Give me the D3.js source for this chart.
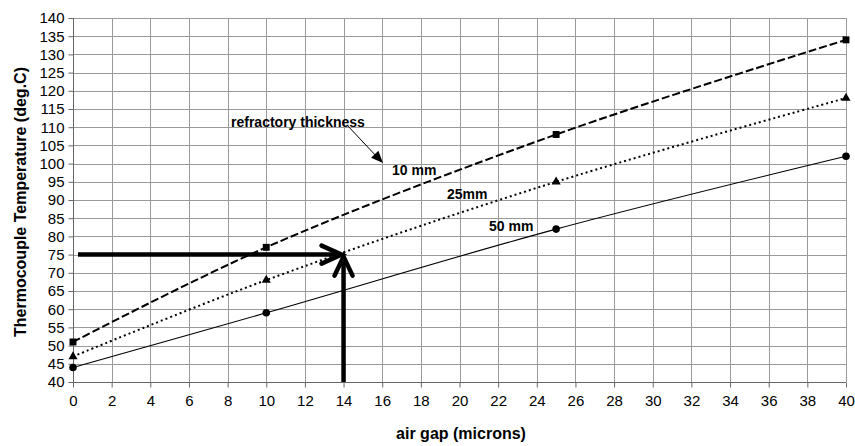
<!DOCTYPE html>
<html><head><meta charset="utf-8">
<script src="https://cdn.jsdelivr.net/npm/d3@7"></script>
<style>
body{margin:0;background:#fff;}
text{font-family:"Liberation Sans",Arial,sans-serif;fill:#000;}
</style></head>
<body><svg id="c" width="855" height="446"></svg>
<script>
const airGap = [0, 10, 25, 40];
const temp10mm = [51, 77, 108, 134];
const temp25mm = [47, 68, 95, 118];
const temp50mm = [44, 59, 82, 102];
const seriesNames = ["10 mm", "25mm", "50 mm"];
const xTicks = d3.range(0, 41, 2);
const yTicks = d3.range(40, 141, 5);
const targetX = 14, targetY = 75;

const svg = d3.select("#c");
const L = 73, R = 846, T = 18, B = 382;
const x = d3.scaleLinear().domain([0, 40]).range([L, R]);
const y = d3.scaleLinear().domain([40, 140]).range([B, T]);

// grid
const g = svg.append("g");
g.selectAll(".vg").data(xTicks).enter().append("line")
  .attr("x1", d => Math.round(x(d)) + 0.5).attr("x2", d => Math.round(x(d)) + 0.5)
  .attr("y1", T).attr("y2", B).attr("stroke", "#9a9a9a").attr("stroke-width", 1);
g.selectAll(".hg").data(yTicks).enter().append("line")
  .attr("y1", d => Math.round(y(d)) + 0.5).attr("y2", d => Math.round(y(d)) + 0.5)
  .attr("x1", L).attr("x2", R).attr("stroke", "#9a9a9a").attr("stroke-width", 1);

// axes
const yAxis = d3.axisLeft(y).tickValues(yTicks).tickSize(5).tickPadding(4);
const xAxis = d3.axisBottom(x).tickValues(xTicks).tickSize(5).tickPadding(8);
const ya = svg.append("g").attr("transform", `translate(${L + 0.5},0)`).call(yAxis);
const xa = svg.append("g").attr("transform", `translate(0,${B + 0.5})`).call(xAxis);
[ya, xa].forEach(a => {
  a.selectAll("path,line").attr("stroke", "#666");
  a.selectAll("text").attr("font-size", "15px").attr("font-family", "Liberation Sans, Arial, sans-serif").attr("fill", "#000");
});
ya.select(".domain").attr("d", `M0,${T}V${B + 0.5}`);
xa.select(".domain").attr("d", `M${L},0H${R}`);

// axis titles
svg.append("text").attr("x", 461).attr("y", 439).attr("text-anchor", "middle")
  .attr("font-size", "16px").attr("font-weight", "bold").text("air gap (microns)");
svg.append("text").attr("transform", "translate(26,202) rotate(-90)").attr("text-anchor", "middle")
  .attr("font-size", "16px").attr("font-weight", "bold").text("Thermocouple Temperature (deg.C)");

// series
const line = d3.line().x(d => x(d[0])).y(d => y(d[1])).curve(d3.curveCatmullRom.alpha(0.5));
const data = [temp10mm, temp25mm, temp50mm].map(v => airGap.map((a, i) => [a, v[i]]));
const styles = [
  {dash: "8,3", w: 2},
  {dash: "2,3", w: 2},
  {dash: null, w: 1.1}
];
data.forEach((d, i) => {
  svg.append("path").attr("d", line(d)).attr("fill", "none").attr("stroke", "#000")
    .attr("stroke-width", styles[i].w).attr("stroke-dasharray", styles[i].dash);
});
// markers
const sym = [d3.symbolSquare, d3.symbolTriangle, d3.symbolCircle];
const sz = [48, 36, 45];
data.forEach((d, i) => {
  svg.selectAll(null).data(d).enter().append("path")
    .attr("d", d3.symbol().type(sym[i]).size(sz[i]))
    .attr("transform", p => `translate(${x(p[0])},${y(p[1])})`).attr("fill", "#000");
});

// annotations
svg.append("text").attr("x", 231).attr("y", 127).attr("font-size", "14px").attr("font-weight", "bold").text("refractory thickness");
svg.append("text").attr("x", 392).attr("y", 175).attr("font-size", "14px").attr("font-weight", "bold").text(seriesNames[0]);
svg.append("text").attr("x", 447).attr("y", 199).attr("font-size", "14px").attr("font-weight", "bold").text(seriesNames[1]);
svg.append("text").attr("x", 489).attr("y", 231).attr("font-size", "14px").attr("font-weight", "bold").text(seriesNames[2]);

// thin arrow
svg.append("line").attr("x1", 347).attr("y1", 125).attr("x2", 378).attr("y2", 158).attr("stroke", "#000").attr("stroke-width", 1);
{
  const tx = 383, ty = 163, ang = Math.atan2(163 - 125, 383 - 347);
  const len = 12, hw = 5;
  const bx = tx - len * Math.cos(ang), by = ty - len * Math.sin(ang);
  const px = -Math.sin(ang) * hw, py = Math.cos(ang) * hw;
  svg.append("path").attr("d", `M${tx},${ty}L${bx + px},${by + py}L${bx - px},${by - py}Z`).attr("fill", "#000");
}

// thick arrows
const tipX = x(targetX), tipY = y(targetY);
svg.append("line").attr("x1", 78).attr("y1", tipY).attr("x2", tipX - 3).attr("y2", tipY)
  .attr("stroke", "#000").attr("stroke-width", 4.5);
svg.append("path").attr("d", `M${tipX - 22},${tipY - 9}L${tipX - 2},${tipY}L${tipX - 22},${tipY + 9}`)
  .attr("fill", "none").attr("stroke", "#000").attr("stroke-width", 4.5).attr("stroke-linecap", "round").attr("stroke-linejoin", "miter");
svg.append("line").attr("x1", tipX).attr("y1", B).attr("x2", tipX).attr("y2", tipY + 3)
  .attr("stroke", "#000").attr("stroke-width", 4.5);
svg.append("path").attr("d", `M${tipX - 9},${tipY + 21}L${tipX},${tipY + 2}L${tipX + 9},${tipY + 21}`)
  .attr("fill", "none").attr("stroke", "#000").attr("stroke-width", 4.5).attr("stroke-linecap", "round").attr("stroke-linejoin", "miter");
</script></body></html>
